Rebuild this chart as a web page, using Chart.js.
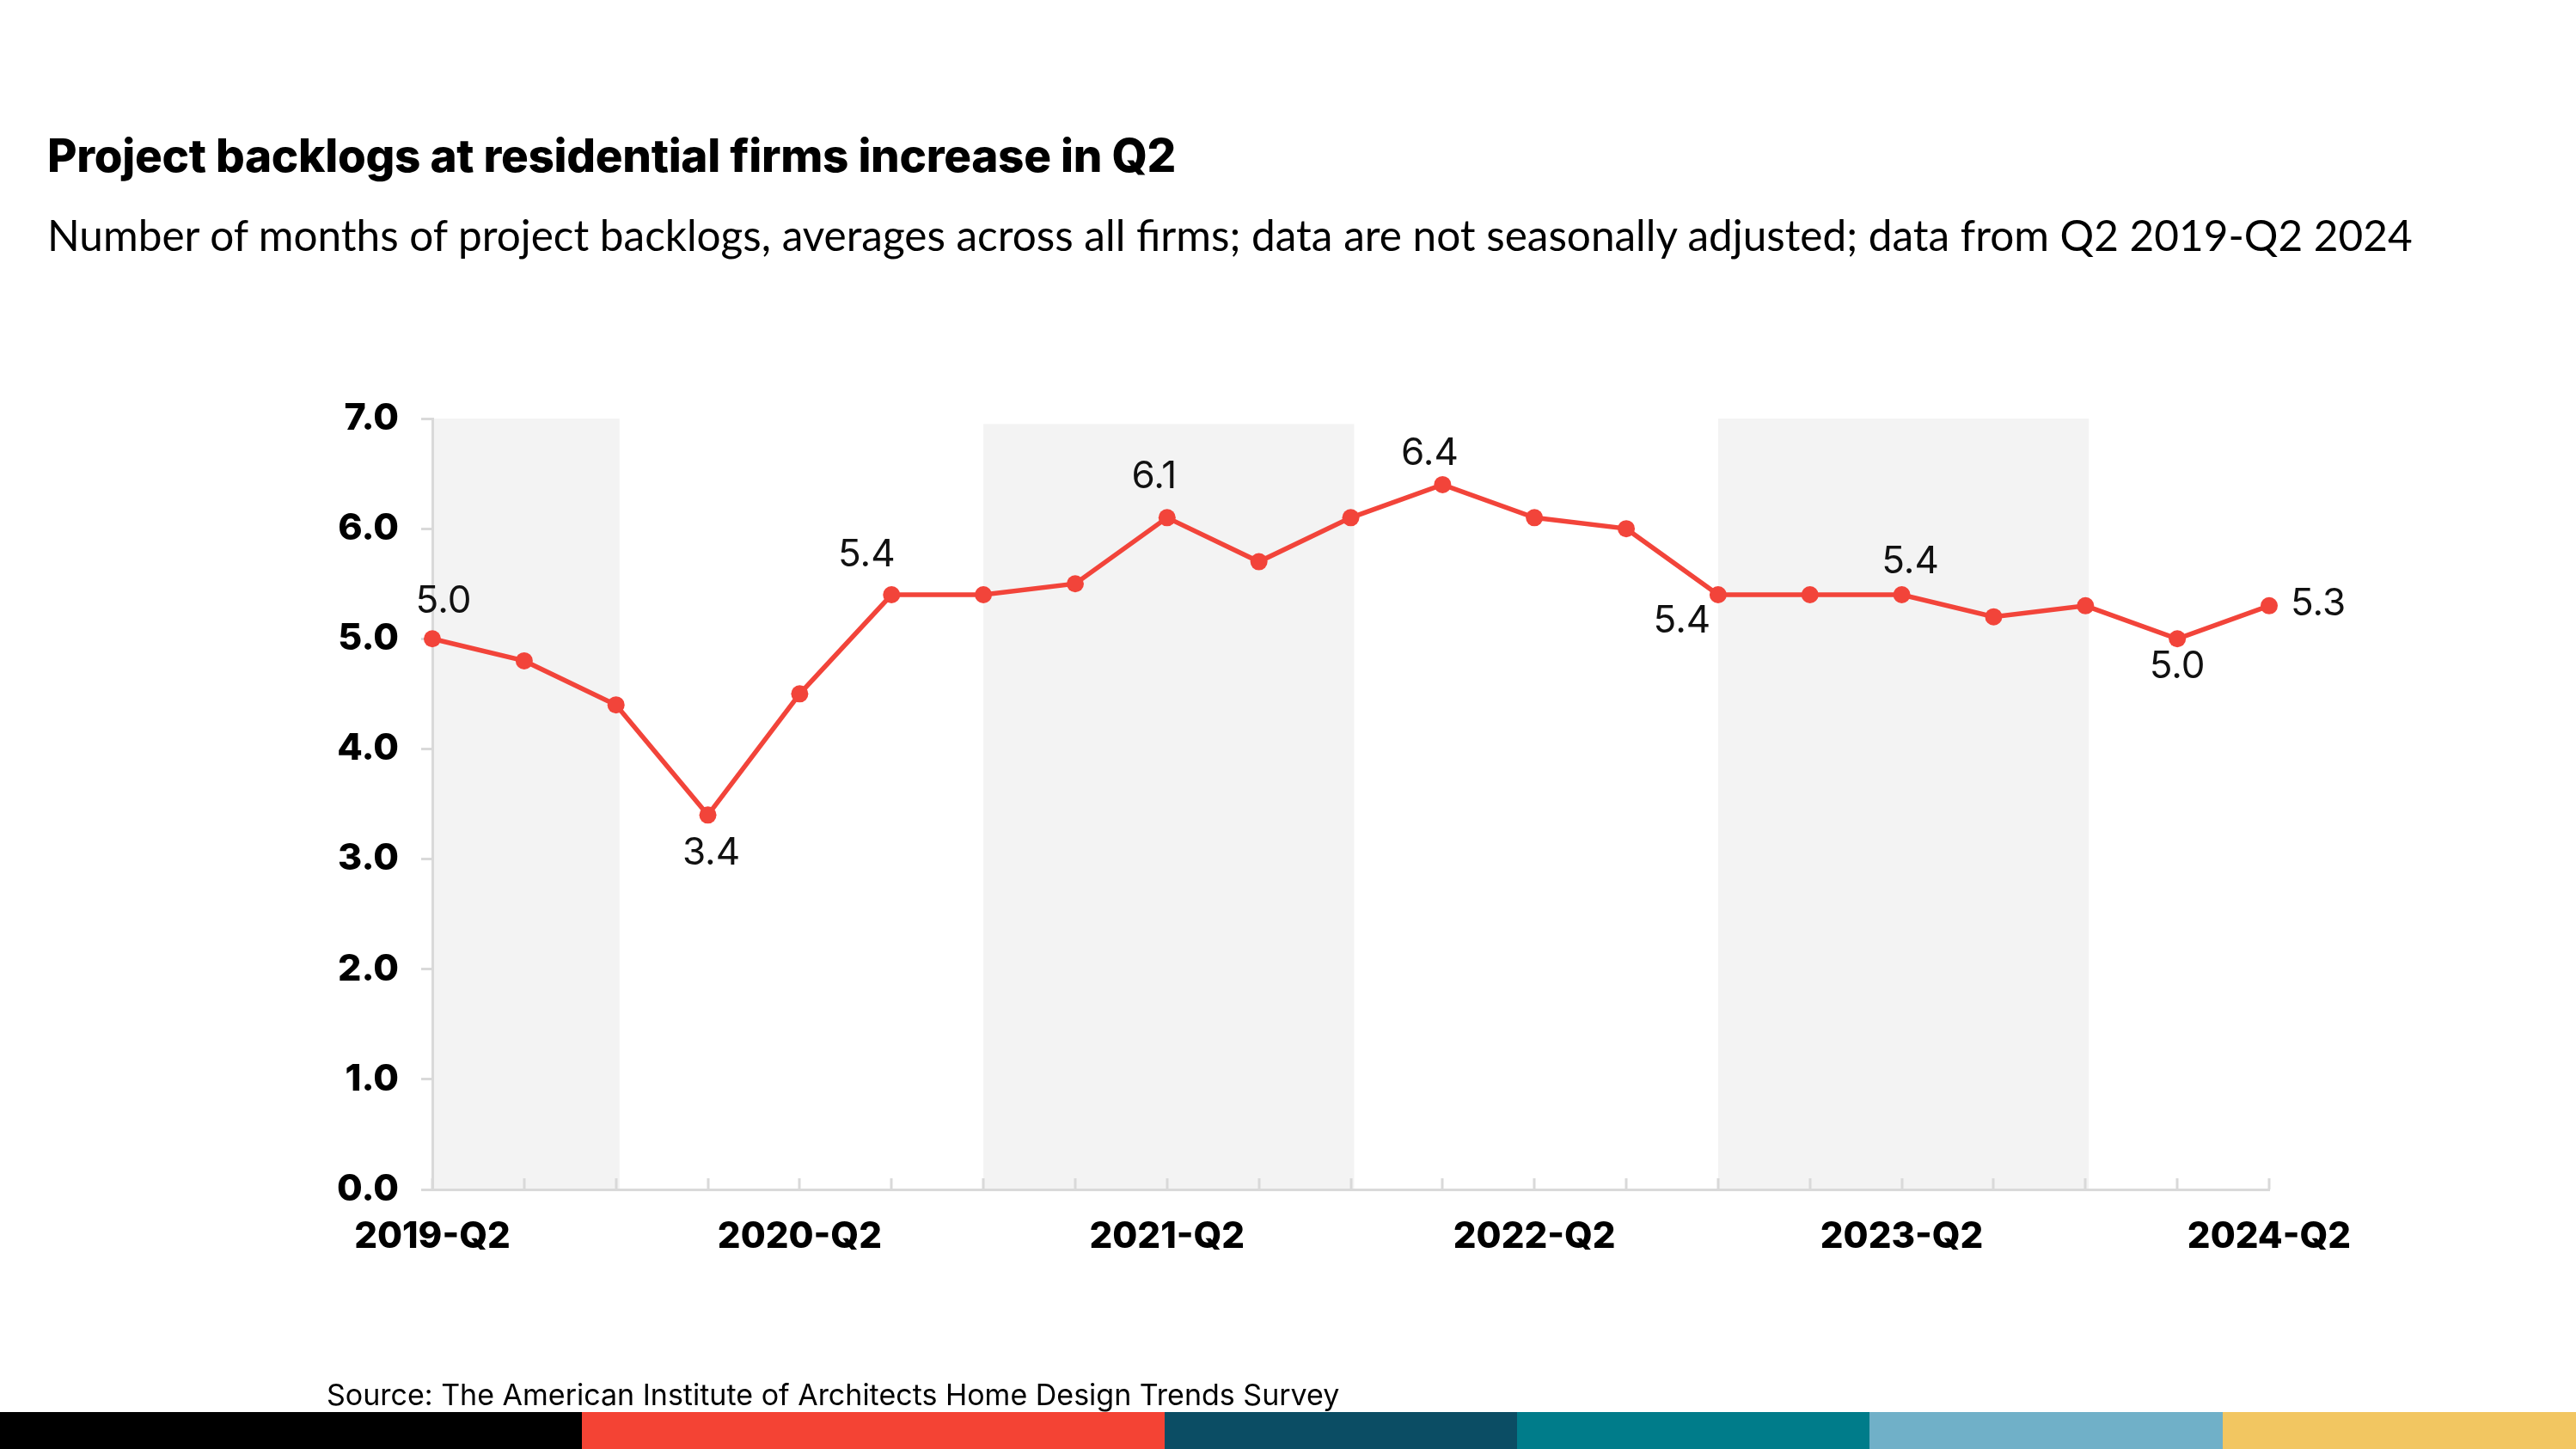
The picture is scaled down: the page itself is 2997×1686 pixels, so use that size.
<!DOCTYPE html>
<html>
<head>
<meta charset="utf-8">
<script src="https://cdn.jsdelivr.net/npm/chart.js@4.4.1/dist/chart.umd.min.js"></script>
<style>
  html, body { margin:0; padding:0; background:#fff; }
  body { width:2997px; height:1686px; position:relative; overflow:hidden; font-family:Inter, "Noto Sans", sans-serif; color:#000; }
  #title { position:absolute; left:55px; top:155px; font-size:53px; font-weight:800; line-height:1; white-space:nowrap; letter-spacing:-0.3px; }
  #subtitle { position:absolute; left:55px; top:249px; font-size:49.5px; font-family:Lato, Inter, sans-serif; font-weight:400; line-height:1; white-space:nowrap; }
  #source { position:absolute; left:380px; top:1606px; font-size:34px; line-height:1; white-space:nowrap; z-index:2; }
  #bar { position:absolute; left:0; top:1643px; width:2997px; height:43px; display:flex; z-index:1; }
  #bar div { height:100%; }
  #chart { position:absolute; left:0; top:0; }
</style>
</head>
<body>
<div id="title">Project backlogs at residential firms increase in Q2</div>
<div id="subtitle">Number of months of project backlogs, averages across all firms; data are not seasonally adjusted; data from Q2 2019-Q2 2024</div>
<canvas id="chart" width="2997" height="1686"></canvas>
<div id="source">Source: The American Institute of Architects Home Design Trends Survey</div>
<div id="bar">
  <div style="width:677px;background:#000000"></div>
  <div style="width:678px;background:#f44334"></div>
  <div style="width:410px;background:#0b4d64"></div>
  <div style="width:410px;background:#007c8a"></div>
  <div style="width:411px;background:#70b0c8"></div>
  <div style="width:411px;background:#f2c661"></div>
</div>
<script>
/* ====== data ====== */
const quarters = [
  '2019-Q2','2019-Q3','2019-Q4',
  '2020-Q1','2020-Q2','2020-Q3','2020-Q4',
  '2021-Q1','2021-Q2','2021-Q3','2021-Q4',
  '2022-Q1','2022-Q2','2022-Q3','2022-Q4',
  '2023-Q1','2023-Q2','2023-Q3','2023-Q4',
  '2024-Q1','2024-Q2'
];
const backlogMonths = [5.0,4.8,4.4,3.4,4.5,5.4,5.4,5.5,6.1,5.7,6.1,6.4,6.1,6.0,5.4,5.4,5.4,5.2,5.3,5.0,5.3];
const yTicks = [0,1,2,3,4,5,6,7];
const shownXLabels = ['2019-Q2','2020-Q2','2021-Q2','2022-Q2','2023-Q2','2024-Q2'];
const labelledPoints = [0,3,5,8,11,14,16,19,20];
// shaded bands: [from index, to index, top value]
const shadedBands = [[0,2,7.0],[6,10,6.95],[14,18,7.0]];

/* ====== look ====== */
const RED = '#f2443a';
const AXIS = '#d9d9d9';
// where each value label sits relative to its point (px)
const labelOffset = {
  0:[13,-44], 3:[4,44], 5:[-29,-46], 8:[-15,-48], 11:[-15,-36],
  14:[-42,31], 16:[10,-38], 19:[0,32], 20:[57,-2]
};

const bandsPlugin = {
  id:'bands',
  beforeDraw(chart){
    const {ctx, scales:{x,y}, chartArea} = chart;
    ctx.save();
    ctx.fillStyle = '#f3f3f3';
    shadedBands.forEach(([a,b,top])=>{
      const x0 = x.getPixelForValue(a), x1 = x.getPixelForValue(b) + 4;
      const y0 = y.getPixelForValue(top);
      ctx.fillRect(x0, y0, x1-x0, chartArea.bottom - y0);
    });
    ctx.restore();
  }
};

const innerTicksPlugin = {
  id:'innerTicks',
  beforeDatasetsDraw(chart){
    const {ctx, scales:{x}, chartArea} = chart;
    ctx.save();
    ctx.strokeStyle = AXIS;
    ctx.lineWidth = 3;
    quarters.forEach((q,i)=>{
      const px = Math.round(x.getPixelForValue(i));
      ctx.beginPath();
      ctx.moveTo(px, chartArea.bottom);
      ctx.lineTo(px, chartArea.bottom - 13);
      ctx.stroke();
    });
    ctx.restore();
  }
};

const valueLabelsPlugin = {
  id:'valueLabels',
  afterDatasetsDraw(chart){
    const {ctx} = chart;
    const pts = chart.getDatasetMeta(0).data;
    ctx.save();
    ctx.font = '400 44px Inter, "Noto Sans", sans-serif';
    ctx.fillStyle = '#111';
    ctx.textAlign = 'center';
    ctx.textBaseline = 'middle';
    labelledPoints.forEach(i=>{
      const [dx,dy] = labelOffset[i];
      ctx.fillText(backlogMonths[i].toFixed(1), pts[i].x + dx, pts[i].y + dy);
    });
    ctx.restore();
  }
};

new Chart(document.getElementById('chart'), {
  type:'line',
  data:{
    labels: quarters,
    datasets:[{
      data: backlogMonths,
      borderColor: RED,
      backgroundColor: RED,
      borderWidth: 5.5,
      pointRadius: 10,
      pointHoverRadius: 10,
      pointBackgroundColor: RED,
      pointBorderWidth: 0,
      tension: 0
    }]
  },
  options:{
    responsive:false,
    animation:false,
    devicePixelRatio:1,
    layout:{ padding:{ left:353, right:357, top:487, bottom:182 } },
    plugins:{ legend:{display:false}, tooltip:{enabled:false} },
    scales:{
      x:{
        offset:false,
        grid:{ display:false, drawTicks:false },
        border:{ display:true, color:AXIS, width:3 },
        ticks:{
          autoSkip:false, maxRotation:0, padding:30,
          color:'#000',
          font:{ family:'Inter, "Noto Sans", sans-serif', size:42, weight:'800' },
          callback:(v,i)=> shownXLabels.includes(quarters[i]) ? quarters[i] : ''
        },
        afterFit:s=>{ s.height = 120; }
      },
      y:{
        min:0, max:7,
        afterBuildTicks:s=>{ s.ticks = yTicks.map(v=>({value:v})); },
        grid:{ drawOnChartArea:false, drawTicks:true, tickLength:13, color:AXIS, lineWidth:3 },
        border:{ display:true, color:AXIS, width:3 },
        ticks:{
          padding:26, color:'#000',
          font:{ family:'Inter, "Noto Sans", sans-serif', size:43, weight:'800' },
          callback:v=> Number(v).toFixed(1)
        },
        afterFit:s=>{ s.width = 150; }
      }
    }
  },
  plugins:[bandsPlugin, innerTicksPlugin, valueLabelsPlugin]
});
</script>
</body>
</html>
